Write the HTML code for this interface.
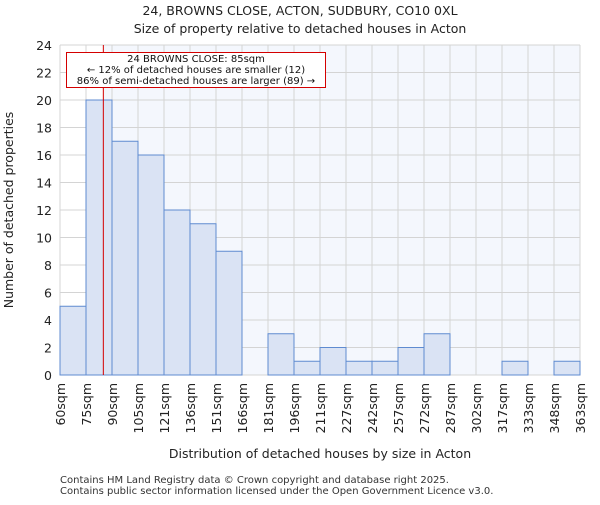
<!DOCTYPE html>
<html><head><meta charset="utf-8"><style>body{margin:0;background:#fff}svg text{font-family:"DejaVu Sans","Liberation Sans",sans-serif}</style></head>
<body>
<svg id="c" width="600" height="500" xmlns="http://www.w3.org/2000/svg"></svg>
<script>
const categories=["60sqm","75sqm","90sqm","105sqm","121sqm","136sqm","151sqm","166sqm","181sqm","196sqm","211sqm","227sqm","242sqm","257sqm","272sqm","287sqm","302sqm","317sqm","333sqm","348sqm","363sqm"];
const counts=[5,20,17,16,12,11,9,0,3,1,2,1,1,2,3,0,0,1,0,1];
const yTicks=[0,2,4,6,8,10,12,14,16,18,20,22,24];
const subjectValue=85;
const binStarts=[60,75,90,105,121,136,151,166,181,196,211,227,242,257,272,287,302,317,333,348,363];
const NS="http://www.w3.org/2000/svg",svg=document.getElementById('c');
const L=60,R=580,T=45,B=375,yMax=24;
const bw=(R-L)/counts.length;
const xi=i=>L+i*bw;
const y=v=>B-(v/yMax)*(B-T);
function mk(t,a,txt){const e=document.createElementNS(NS,t);for(const k in a)e.setAttribute(k,a[k]);if(txt!==undefined)e.textContent=txt;svg.appendChild(e);return e;}
function xv(v){for(let i=0;i<binStarts.length-1;i++){if(v>=binStarts[i]&&v<=binStarts[i+1])return xi(i)+bw*(v-binStarts[i])/(binStarts[i+1]-binStarts[i]);}return L;}
const sx=xv(subjectValue);
let e=mk('rect',{x:sx,y:T,width:R-sx,height:B-T,fill:'#f4f7fd'});


yTicks.forEach(t=>{let g=mk('line',{x1:L,x2:R,y1:y(t),y2:y(t),stroke:'#d4d4d4','stroke-width':1});


let tx=mk('text',{x:L-8,y:y(t)+5,'text-anchor':'end','font-size':12.5,fill:'#222'},t);

});
categories.forEach((c,i)=>{let g=mk('line',{x1:xi(i),x2:xi(i),y1:T,y2:B,stroke:'#d4d4d4','stroke-width':1});


const px=xi(i);
let tx=mk('text',{x:0,y:0,'text-anchor':'end','font-size':12.5,fill:'#222',transform:`translate(${px+5},${B+8}) rotate(-90)`},c);

});
counts.forEach((v,i)=>{if(v<=0)return;let b=mk('rect',{x:xi(i),y:y(v),width:bw,height:B-y(v),fill:'#dae3f4',stroke:'#5f8bd0','stroke-width':1});

});
e=mk('line',{x1:sx,x2:sx,y1:T,y2:B,stroke:'#d40000','stroke-width':1});


e=mk('rect',{x:66.5,y:52.5,width:259,height:35,fill:'#fff',stroke:'#d40000','stroke-width':1});


[["24 BROWNS CLOSE: 85sqm",62],["← 12% of detached houses are smaller (12)",73],["86% of semi-detached houses are larger (89) →",84]].forEach(a=>{let t=mk('text',{x:196,y:a[1],'text-anchor':'middle','font-size':10,fill:'#111'},a[0]);

});
e=mk('text',{x:300,y:15,'text-anchor':'middle','font-size':12.5,fill:'#222'},"24, BROWNS CLOSE, ACTON, SUDBURY, CO10 0XL");


e=mk('text',{x:300,y:33,'text-anchor':'middle','font-size':12.5,fill:'#222'},"Size of property relative to detached houses in Acton");


e=mk('text',{x:320,y:458,'text-anchor':'middle','font-size':12.5,fill:'#222'},"Distribution of detached houses by size in Acton");


e=mk('text',{x:0,y:0,'text-anchor':'middle','font-size':12.5,fill:'#222',transform:'translate(13,210) rotate(-90)'},"Number of detached properties");


e=mk('text',{x:60,y:483,'font-size':10,fill:'#333'},"Contains HM Land Registry data © Crown copyright and database right 2025.");


e=mk('text',{x:60,y:494,'font-size':10,fill:'#333'},"Contains public sector information licensed under the Open Government Licence v3.0.");


</script>
</body></html>
